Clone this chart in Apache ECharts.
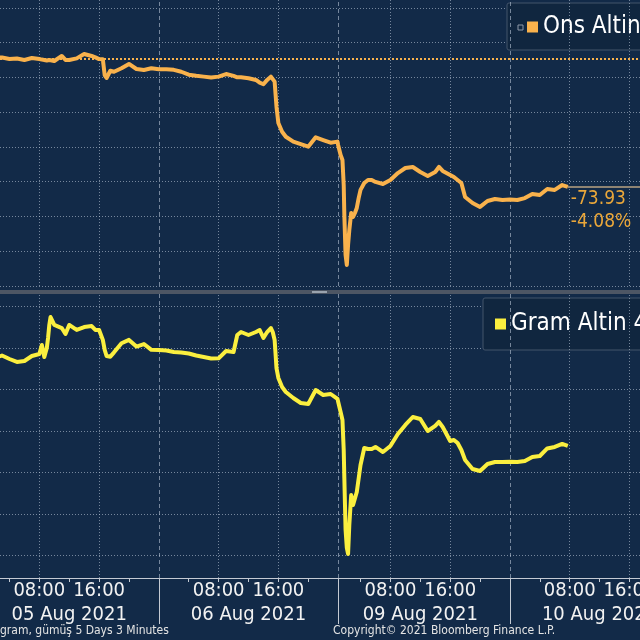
<!DOCTYPE html>
<html>
<head>
<meta charset="utf-8">
<script src="https://cdn.jsdelivr.net/npm/echarts@6.0.0/dist/echarts.min.js"></script>
<style>
html,body{margin:0;padding:0;background:#122a48;}
#c{width:640px;height:640px;}
</style>
</head>
<body>
<div id="c"></div>
<script>
// ---- data ----
const times = [
 '08-05 02:40','08-05 03:00','08-05 04:00','08-05 05:00','08-05 06:00','08-05 07:00','08-05 08:00','08-05 08:20','08-05 08:40','08-05 09:00','08-05 09:10','08-05 09:20','08-05 09:30','08-05 10:00','08-05 11:00','08-05 11:30','08-05 12:00','08-05 13:00','08-05 14:00','08-05 15:00','08-05 15:30','08-05 16:00','08-05 16:30','08-05 16:45','08-05 17:00','08-05 17:30','08-05 18:00','08-05 19:00','08-05 20:00','08-05 21:00','08-05 22:00','08-05 23:00',
 '08-06 00:00','08-06 01:00','08-06 02:00','08-06 03:00','08-06 04:00','08-06 05:00','08-06 06:00','08-06 07:00','08-06 08:00','08-06 09:00','08-06 10:00','08-06 10:30','08-06 11:00','08-06 12:00','08-06 13:00','08-06 13:30','08-06 14:00','08-06 14:30','08-06 15:00','08-06 15:15','08-06 15:30','08-06 15:45','08-06 16:00','08-06 16:30','08-06 17:00','08-06 18:00','08-06 19:00','08-06 20:00','08-06 21:00','08-06 22:00','08-06 23:00','08-06 23:55',
 '08-09 01:00','08-09 01:20','08-09 01:35','08-09 01:45','08-09 01:50','08-09 02:00','08-09 02:10','08-09 02:20','08-09 02:30','08-09 02:45','08-09 03:00','08-09 03:15','08-09 03:30','08-09 03:45','08-09 04:00','08-09 04:30','08-09 05:00','08-09 05:30','08-09 06:00','08-09 07:00','08-09 08:00','08-09 09:00','08-09 10:00','08-09 11:00','08-09 12:00','08-09 13:00','08-09 14:00','08-09 14:30','08-09 15:00','08-09 16:00','08-09 16:30','08-09 17:00','08-09 17:30','08-09 18:00','08-09 19:00','08-09 20:00','08-09 21:00','08-09 22:00','08-09 23:00',
 '08-10 00:00','08-10 01:00','08-10 02:00','08-10 03:00','08-10 04:00','08-10 05:00','08-10 06:00','08-10 07:00','08-10 07:45'
];
const onsValues = [
 1811.5,1811.5,1810.6,1810.9,1810.1,1811.2,1810.6,1810.3,1810.1,1809.8,1809.5,1810.1,1809.2,1809.5,1812.4,1810.1,1810.1,1811.0,1813.5,1812.4,1811.6,1810.6,1810.5,1801.4,1799.7,1803.9,1803.3,1805.3,1807.8,1804.9,1804.3,1805.3,
 1804.7,1804.7,1804.4,1803.3,1801.6,1801.0,1800.5,1800.0,1800.5,1802.0,1800.9,1800.1,1800.1,1799.6,1798.6,1797.0,1796.1,1798.6,1800.5,1800.0,1797.6,1783.2,1773.8,1768.8,1765.9,1763.1,1761.7,1760.2,1765.6,1764.0,1762.5,1763.1,
 1761.2,1755.4,1752.5,1738.1,1720.9,1697.8,1692.1,1703.6,1712.2,1722.0,1719.7,1722.0,1724.9,1730.6,1735.3,1739.3,1741.0,1741.0,1739.9,1738.7,1741.0,1745.0,1747.9,1748.5,1745.6,1743.3,1745.6,1748.5,1746.2,1743.9,1742.7,1741.0,1739.3,1731.2,1727.8,1725.5,1728.9,1730.1,1729.5,
 1729.8,1729.5,1730.6,1733.0,1732.4,1735.8,1735.3,1738.1,1737.0
];
const gramValues = [
 489.0,489.12,488.70,488.34,488.46,489.06,489.30,490.39,488.94,490.02,491.23,492.80,493.76,492.80,492.43,491.71,492.8,492.2,492.55,492.67,492.2,492.2,491.0,489.8,489.06,488.98,489.5,490.6,491.0,490.2,490.5,489.8,
 489.78,489.72,489.54,489.48,489.36,489.12,488.94,488.76,488.78,489.66,489.54,491.59,491.95,491.59,491.95,492.19,491.23,491.95,492.43,491.95,490.99,487.61,486.41,485.33,484.72,484.00,483.40,483.28,484.96,484.36,484.48,483.88,
 483.76,482.31,481.35,477.74,474.36,468.10,465.93,465.21,468.70,472.31,471.11,471.11,472.68,472.92,475.93,477.98,477.86,477.86,478.10,477.49,478.22,479.66,480.75,481.71,481.47,480.02,480.63,481.11,480.51,478.82,478.94,478.58,477.74,476.53,475.45,475.20,476.05,476.29,476.29,
 476.33,476.29,476.41,476.89,477.01,477.92,478.10,478.46,478.22
];
const onsReference = 1810.93;
const seriesNames = ['Ons Altin', 'Gram Altin 4'];
const timeLabelTimes = ['08-05 08:00','08-05 16:00','08-06 08:00','08-06 16:00','08-09 08:00','08-09 16:00','08-10 08:00','08-10 16:00'];
const dayLabels = ['05 Aug 2021','06 Aug 2021','09 Aug 2021','10 Aug 2021'];
const dayCenterTimes = ['08-05 12:00','08-06 12:00','08-09 12:00','08-10 12:00'];
const dayBoundTimes = ['08-06 00:00','08-09 01:00','08-10 00:00'];
const minorTickHours = ['04:00','08:00','12:00','16:00','20:00'];
const tickDays = ['08-05','08-06','08-09','08-10'];
const viewStart = '08-05 02:44', viewEnd = '08-10 17:25';
const footerLeft = 'gram, gümüş 5 Days 3 Minutes';
const footerRight = 'Copyright© 2021 Bloomberg Finance L.P.';

// trading-time scale: the closed weekend (07 Aug 00:00 -> 09 Aug 01:00) is removed
function tradingHours(s){
  const d = +s.slice(3,5), h = +s.slice(6,8), m = +s.slice(9,11);
  let t = (d-5)*24 + h + m/60;
  if (d >= 9) t -= 49;
  return t;
}

const FONT = "'DejaVu Sans Condensed','Liberation Sans Narrow','DejaVu Sans',sans-serif";
const ORANGE = '#f9b24c', YELLOW = '#fbef3f';
const GRIDC = 'rgba(185,198,215,0.6)';
const xs = times.map(tradingHours);
const onsData = xs.map((x,i)=>[x, onsValues[i]]);
const gramData = xs.map((x,i)=>[x, gramValues[i]]);
const xMin = tradingHours(viewStart), xMax = tradingHours(viewEnd);
const labelT = timeLabelTimes.map(tradingHours);
const centerT = dayCenterTimes.map(tradingHours);
const boundT = dayBoundTimes.map(tradingHours);
const minorT = [];
tickDays.forEach(d=>minorTickHours.forEach(h=>minorT.push(tradingHours(d+' '+h))));

const lastX = xs[xs.length-1], lastOns = onsValues[onsValues.length-1];
const diff = lastOns - onsReference;
const pct = diff / onsReference * 100;

function findLabel(v, arr, texts){
  for (let i=0;i<arr.length;i++) if (Math.abs(arr[i]-v) < 1e-6) return texts[i];
  return '';
}
function vLines(){
  return labelT.map(v=>({xAxis:v, lineStyle:{type:[1,2], color:GRIDC, width:1}}))
    .concat(boundT.map(v=>({xAxis:v, lineStyle:{type:[4,3], color:GRIDC, width:1}})));
}

const chart = echarts.init(document.getElementById('c'), null, {renderer:'canvas'});
const option = {
  backgroundColor: '#122a48',
  animation: false,
  title: [
    {text: footerLeft, left: 0, top: 625, padding: 0, textStyle:{color:'#e4e4e4', fontSize:12, fontWeight:'normal', fontFamily:FONT}},
    {text: footerRight, left: 333, top: 625, padding: 0, textStyle:{color:'#e4e4e4', fontSize:12, fontWeight:'normal', fontFamily:FONT}}
  ],
  legend: [
    {data:[seriesNames[0]], left:507, top:3, padding:[12,220,11,20], icon:'rect', itemWidth:11, itemHeight:11,
     backgroundColor:'#10263f', borderColor:'#43546b', borderWidth:1, borderRadius:2, selectedMode:false,
     textStyle:{color:'#ffffff', fontSize:24, fontFamily:FONT}},
    {data:[seriesNames[1]], left:483, top:298, padding:[14,220,14,12], icon:'rect', itemWidth:11, itemHeight:11,
     backgroundColor:'#10263f', borderColor:'#43546b', borderWidth:1, borderRadius:2, selectedMode:false,
     textStyle:{color:'#ffffff', fontSize:24, fontFamily:FONT}}
  ],
  grid: [
    {left:0, right:0, top:0, bottom:354, containLabel:false, outerBoundsMode:'none'},
    {left:0, right:0, top:294, bottom:62, containLabel:false, outerBoundsMode:'none'}
  ],
  xAxis: [
    {gridIndex:0, type:'value', min:xMin, max:xMax, position:'bottom', offset:6,
     axisLabel:{show:false}, axisTick:{show:false}, splitLine:{show:false},
     axisLine:{show:true, onZero:false, lineStyle:{color:'#4d5664', width:4}}},
    {gridIndex:1, type:'value', min:xMin, max:xMax, position:'bottom', splitLine:{show:false},
     axisLine:{show:true, onZero:false, lineStyle:{color:'#c4cad3', width:1}},
     axisTick:{show:true, customValues:minorT, length:4, lineStyle:{color:'#c4cad3'}},
     axisLabel:{show:true, customValues:labelT, margin:3, color:'#f2f2f2', fontSize:20, fontFamily:FONT,
       formatter:v=>{const s=findLabel(v,labelT,timeLabelTimes); return s? s.slice(6):'';}}},
    {gridIndex:1, type:'value', min:xMin, max:xMax, position:'bottom', splitLine:{show:false},
     axisLine:{show:false, onZero:false},
     axisTick:{show:true, customValues:boundT, length:46, lineStyle:{color:'#c4cad3'}},
     axisLabel:{show:true, customValues:centerT, margin:27, color:'#f2f2f2', fontSize:20, fontFamily:FONT,
       formatter:v=>findLabel(v,centerT,dayLabels)}}
  ],
  yAxis: [
    {gridIndex:0, type:'value', min:1680, max:1844.6, interval:20, position:'right',
     axisLabel:{show:false}, axisLine:{show:false}, axisTick:{show:false},
     splitLine:{show:true, showMaxLine:false, lineStyle:{color:GRIDC, type:[1,2], width:1}}},
    {gridIndex:1, type:'value', min:462.31, max:496.53, splitNumber:7, position:'right',
     axisLabel:{show:false}, axisLine:{show:false}, axisTick:{show:false},
     splitLine:{show:true, showMaxLine:false, showMinLine:false, lineStyle:{color:GRIDC, type:[1,2], width:1}}}
  ],
  graphic: [
    {type:'rect', shape:{x:518, y:25, width:5, height:5}, style:{fill:'none', stroke:'#8d98a8', lineWidth:1}, z:100},
    {type:'rect', shape:{x:312, y:291, width:15, height:2}, style:{fill:'#9aa3ae'}, z:100}
  ],
  series: [
    {name:seriesNames[0], type:'line', xAxisIndex:0, yAxisIndex:0, data:onsData, symbol:'none', showSymbol:false,
     z:10, lineStyle:{color:ORANGE, width:4, join:'round'}, itemStyle:{color:ORANGE},
     endLabel:{show:true, distance:3, offset:[0,24], align:'left', color:'#eaa73a', fontSize:19, lineHeight:23, fontFamily:FONT,
       formatter:()=> diff.toFixed(2) + '\n' + pct.toFixed(2) + '%'},
     markLine:{silent:true, symbol:['none','none'], label:{show:false}, animation:false,
       data: vLines().concat([
         {yAxis:onsReference, lineStyle:{type:[2,2], color:ORANGE, width:2}},
         [{coord:[lastX,lastOns], lineStyle:{type:'solid', color:'#8f8473', width:2}}, {coord:[xMax,lastOns]}]
       ])}},
    {name:seriesNames[1], type:'line', xAxisIndex:1, yAxisIndex:1, data:gramData, symbol:'none', showSymbol:false,
     z:10, lineStyle:{color:YELLOW, width:4, join:'round'}, itemStyle:{color:YELLOW},
     markLine:{silent:true, symbol:['none','none'], label:{show:false}, animation:false, data: vLines()}}
  ]
};
chart.setOption(option);
</script>
</body>
</html>
